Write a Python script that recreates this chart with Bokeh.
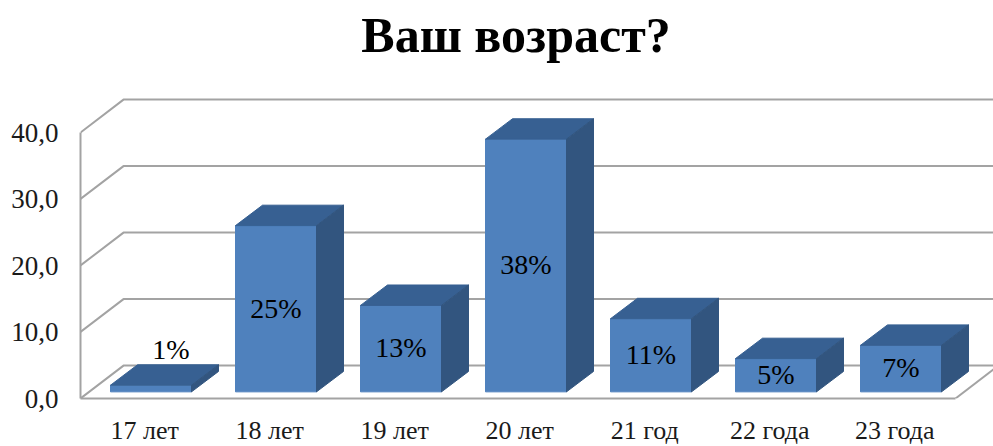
from bokeh.plotting import figure
from bokeh.models import FixedTicker, Range1d
from bokeh.embed import file_html
from bokeh.resources import INLINE
from bokeh.core.properties import value

title_text = "Ваш возраст?"
categories = ["17 лет", "18 лет", "19 лет", "20 лет", "21 год", "22 года", "23 года"]
values = [1, 25, 13, 38, 11, 5, 7]
labels = ["1%", "25%", "13%", "38%", "11%", "5%", "7%"]
y_ticks = [0, 10, 20, 30, 40]
y_tick_labels = ["0,0", "10,0", "20,0", "30,0", "40,0"]

FONT = "Liberation Serif"
GRID = "#a3a3a3"
FRONT, TOP, SIDE = "#4f81bd", "#376092", "#32557f"

# scene geometry, in axis units
X0, X1 = -0.564, 6.74
Y1 = 59.85
TITLE_X, TITLE_Y = 2.92, 54.6
FLOOR_END = 6.436
WALL_DX, WALL_DY = 0.344, 4.95
HALF, BAR_DX, BAR_DY, BASE = 0.324, 0.216, 3.07, 1.0

p = figure(width=993, height=446, frame_width=913, frame_height=398,
           output_backend="svg", toolbar_location=None,
           x_range=Range1d(X0, X1), y_range=Range1d(0, Y1),
           min_border_left=80, min_border_right=0, min_border_top=0, min_border_bottom=48)
p.outline_line_color = None
p.xgrid.visible = False
p.ygrid.visible = False

p.text([TITLE_X], [TITLE_Y], text=[title_text], text_font=value(FONT), text_font_size="50px",
       text_font_style="bold", text_color="#000000", text_align="center", text_baseline="middle")

# back wall + floor
xs_grid, ys_grid = [], []
for v in y_ticks:
    xs_grid.append([X0, X0 + WALL_DX, X1])
    ys_grid.append([v, v + WALL_DY, v + WALL_DY])
xs_grid.append([FLOOR_END, FLOOR_END + WALL_DX])
ys_grid.append([0, WALL_DY])
p.multi_line(xs_grid, ys_grid, line_color=GRID, line_width=2)

# bars
for i, v in enumerate(values):
    l, r = i - HALF, i + HALF
    b, t = BASE, BASE + v
    p.quad(left=[l], right=[r], bottom=[b], top=[t], fill_color=FRONT, line_color=FRONT)
    p.patch([l, r, r + BAR_DX, l + BAR_DX], [t, t, t + BAR_DY, t + BAR_DY], fill_color=TOP, line_color=TOP)
    p.patch([r, r + BAR_DX, r + BAR_DX, r], [b, b + BAR_DY, t + BAR_DY, t], fill_color=SIDE, line_color=SIDE)

# data labels: centred on the front face, or above the bar when it is too thin
lx, ly = [], []
for i, v in enumerate(values):
    if v < 2:
        lx.append(i + 0.16)
        ly.append(BASE + v + BAR_DY + 2.3)
    else:
        lx.append(float(i))
        ly.append(BASE + v / 2 + 0.1)
p.text(lx, ly, text=labels, text_font=value(FONT), text_font_size="28px", text_color="#000000",
       text_align="center", text_baseline="middle")

# axes
x_positions = [i - 0.05 for i in range(len(categories))]
p.xaxis.ticker = FixedTicker(ticks=x_positions)
p.xaxis.major_label_overrides = dict(zip(x_positions, categories))
p.xaxis.bounds = (X0, FLOOR_END)
p.yaxis.ticker = FixedTicker(ticks=y_ticks)
p.yaxis.major_label_overrides = dict(zip(y_ticks, y_tick_labels))
p.yaxis.bounds = (0, 40)
for ax in (p.xaxis[0], p.yaxis[0]):
    ax.axis_line_color = GRID
    ax.axis_line_width = 2
    ax.major_tick_line_color = None
    ax.minor_tick_line_color = None
    ax.major_label_text_font = FONT
    ax.major_label_text_color = "#1a1a1a"
p.xaxis.major_label_text_font_size = "26px"
p.yaxis.major_label_text_font_size = "27px"
p.xaxis.major_label_standoff = 11
p.yaxis.major_label_standoff = 16
p.yaxis.major_label_orientation = "horizontal"

open("out.html", "w").write(file_html(p, INLINE))
